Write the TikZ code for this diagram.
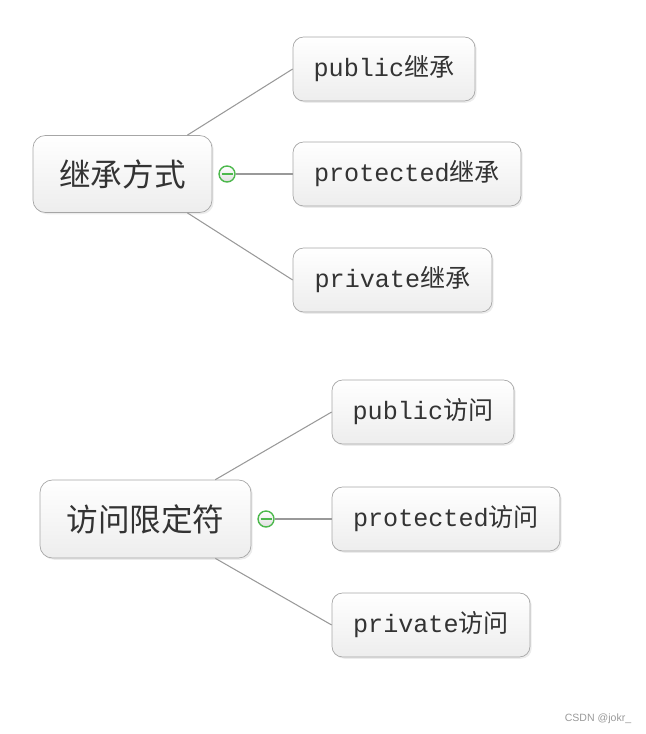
\documentclass[tikz,border=0pt]{standalone}
\usepackage{fontspec}
\setmonofont{Liberation Mono}
\newfontfamily\cjk{Noto Sans CJK SC}
\newfontfamily\wmfont{Liberation Sans}
\usepackage{tikz}
\usetikzlibrary{positioning,shadows}

\begin{document}
\begin{tikzpicture}[
    x=0.02cm, y=-0.02cm,
    root/.style={rectangle, draw=gray!70, top color=white, bottom color=gray!14, rounded corners=7pt, minimum height=1.54cm, align=center, font=\fontsize{18}{20}\selectfont\cjk, text=black!80, drop shadow={opacity=0.15, shadow xshift=1pt, shadow yshift=-1pt}},
    leaf/.style={rectangle, draw=gray!70, top color=white, bottom color=gray!14, rounded corners=6pt, minimum height=1.28cm, align=center, font=\fontsize{14.3}{16}\selectfont, text=black!80, drop shadow={opacity=0.15, shadow xshift=1pt, shadow yshift=-1pt}},
    toggle/.style={circle, draw=green!60!black!70, line width=0.8pt, top color=white, bottom color=gray!25, minimum size=0.32cm, inner sep=0pt},
    link/.style={draw=gray!80, line width=0.6pt}
]
\useasboundingbox (0,0) rectangle (646,734);

% Inheritance group
\node[root, minimum width=3.58cm] (inherit) at (122.5,174) {继承方式};
\node[toggle, right=0.12cm of inherit] (tog1) {};
\draw[green!60!black!70, line width=0.8pt] ([xshift=-0.11cm]tog1.center) -- ([xshift=0.11cm]tog1.center);
\node[leaf, minimum width=3.64cm] (pubinh) at (384,69) {\ttfamily public{\cjk 继承}};
\node[leaf, minimum width=4.56cm] (protinh) at (407,174) {\ttfamily protected{\cjk 继承}};
\node[leaf, minimum width=3.98cm] (privinh) at (392.5,280) {\ttfamily private{\cjk 继承}};

\draw[link] ([xshift=-0.5cm]inherit.north east) -- (pubinh.west);
\draw[link] (tog1.east) -- (protinh.west);
\draw[link] ([xshift=-0.5cm]inherit.south east) -- (privinh.west);

% Access specifier group
\node[root, minimum width=4.22cm, minimum height=1.56cm] (access) at (145.5,519) {访问限定符};
\node[toggle, right=0.12cm of access] (tog2) {};
\draw[green!60!black!70, line width=0.8pt] ([xshift=-0.11cm]tog2.center) -- ([xshift=0.11cm]tog2.center);
\node[leaf, minimum width=3.64cm] (pubacc) at (423,412) {\ttfamily public{\cjk 访问}};
\node[leaf, minimum width=4.56cm] (protacc) at (446,519) {\ttfamily protected{\cjk 访问}};
\node[leaf, minimum width=3.96cm] (privacc) at (431,625) {\ttfamily private{\cjk 访问}};

\draw[link] ([xshift=-0.72cm]access.north east) -- (pubacc.west);
\draw[link] (tog2.east) -- (protacc.west);
\draw[link] ([xshift=-0.72cm]access.south east) -- (privacc.west);

% watermark
\node[font=\fontsize{6}{7}\selectfont\wmfont, text=gray!80] (mark) at (598,719) {CSDN @jokr\_};
\end{tikzpicture}
\end{document}
